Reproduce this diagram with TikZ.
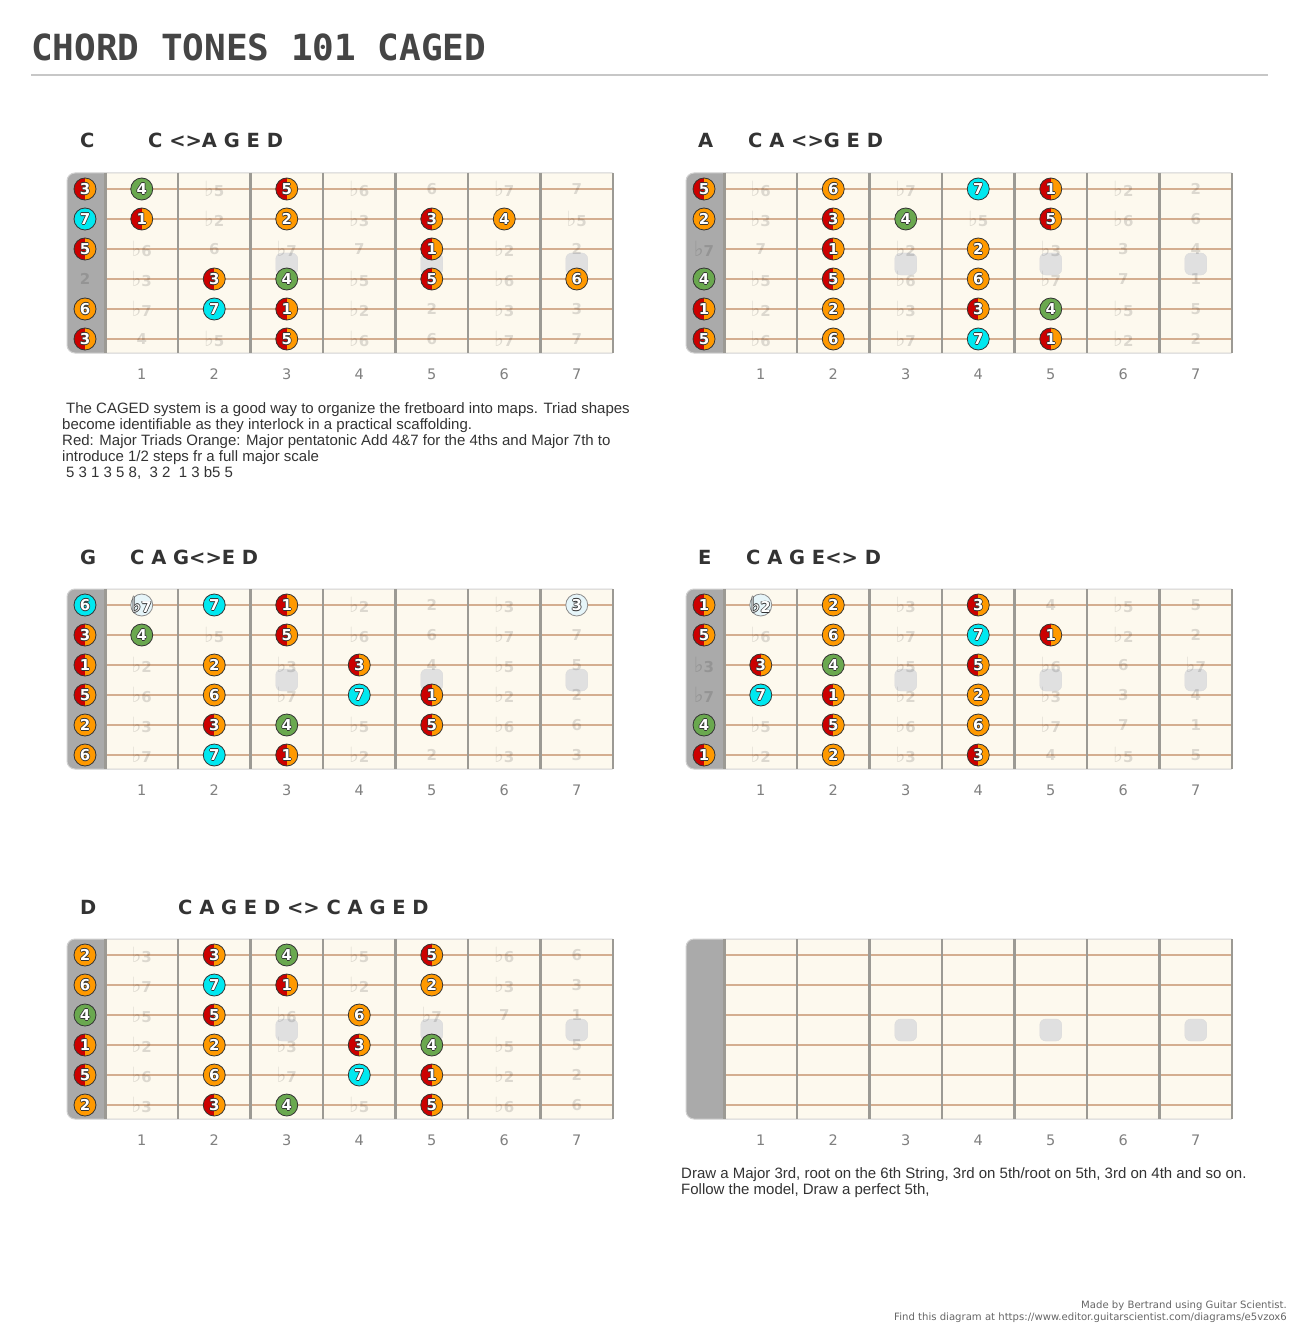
\documentclass[tikz,border=0pt]{standalone}
\usepackage{fontspec}
\setmainfont{Liberation Sans}
\newfontfamily\verdana{DejaVu Sans}
\newfontfamily\monofont{DejaVu Sans Mono}

\definecolor{nred}{HTML}{CC0000}
\definecolor{norange}{HTML}{FF9900}
\definecolor{ngreen}{HTML}{6AA84F}
\definecolor{ncyan}{HTML}{00E8F0}
\definecolor{ink}{HTML}{333333}
\definecolor{boardbg}{HTML}{FDF9EE}
\definecolor{nutgray}{HTML}{AAAAAA}
\definecolor{stringc}{HTML}{D4AE90}
\definecolor{fretc}{HTML}{9C9A94}
\definecolor{dotc}{HTML}{E0E0E0}
\definecolor{ghostc}{HTML}{E6F5F9}

\newcommand\fl{\raisebox{0.3pt}{\scalebox{1.4}{\verdana\mdseries ♭}}}
\newcommand\ivl[1]{\ifcase#1 1\or\fl2\or 2\or\fl3\or 3\or 4\or\fl5\or 5\or\fl6\or 6\or\fl7\or 7\fi}
\newcommand\olab[1]{%
  \makebox[0pt]{\textcolor{ink}{\kern1.5pt#1}}%
  \makebox[0pt]{\textcolor{ink}{#1\kern1.5pt}}%
  \makebox[0pt]{\textcolor{ink}{\raisebox{0.75pt}{#1}}}%
  \makebox[0pt]{\textcolor{ink}{\raisebox{-0.75pt}{#1}}}%
  \makebox[0pt]{\textcolor{white}{#1}}}

\tikzset{
  note/.style={circle, minimum size=22pt, inner sep=0pt, draw=ink, line width=0.8pt,
    font=\verdana\bfseries\fontsize{15}{16}\selectfont},
  triad/.style={note, fill=norange, path picture={
    \fill[nred] (path picture bounding box.south west) rectangle (path picture bounding box.north);}},
  penta/.style={note, fill=norange},
  fourth/.style={note, fill=ngreen},
  seventh/.style={note, fill=ncyan},
  ghost/.style={note, fill=ghostc, draw=black!45},
  faint/.style={inner sep=0pt, text=black, text opacity=0.13,
    font=\verdana\bfseries\fontsize{15}{16}\selectfont},
  inlay/.style={draw=black!14, fill=dotc, rounded corners=6pt, minimum width=22pt,
    minimum height=22pt, inner sep=0pt},
  fretnum/.style={inner sep=0pt, text=black!50, font=\verdana\fontsize{14.5}{16}\selectfont},
  heading/.style={anchor=base west, inner sep=0pt, text=ink,
    font=\verdana\bfseries\fontsize{19.5}{20}\selectfont},
  desc/.style={anchor=north west, inner sep=0pt, align=left, text=ink,
    font=\fontsize{15}{16}\selectfont},
}

% one fretboard in local coordinates; #1 = key (-1 = blank)
\newcommand\fretboard[1]{%
  \fill[nutgray, rounded corners=8pt] (0,0) rectangle (50,180);
  \fill[boardbg] (38.5,0) rectangle (545.5,180);
  \draw[black!18, line width=1pt, rounded corners=8pt] (545.5,0) -- (0,0) -- (0,180) -- (545.5,180);
  \foreach \fn in {3,5,7}
    \node[inlay] (\bd-dot\fn) at ({2.25+72.5*\fn},91) {};
  \foreach \sn in {1,...,6}
    \draw[stringc, line width=2pt] (38.5,{30*\sn-14}) -- (545.5,{30*\sn-14});
  \foreach \kn in {0,...,7}
    \draw[fretc, line width=2.5pt] ({38.5+72.5*\kn},0) -- ({38.5+72.5*\kn},180);
  \foreach \fn in {1,...,7}
    \node[fretnum] (\bd-n\fn) at ({2.25+72.5*\fn},201) {\fn};
  \ifnum#1>-1
    \foreach \sn/\op in {1/4,2/11,3/7,4/2,5/9,6/4}{
      \foreach \fn in {0,...,7}{
        \pgfmathtruncatemacro\iv{mod(\op+\fn-#1+24,12)}
        \node[faint] (\bd-g\sn-\fn) at ({18+(\fn>0)*(72.5*\fn-15.75)},{30*\sn-14}) {\ivl{\iv}};
      }}
  \fi
}
% a note: string, fret, style, label
\newcommand\nt[4]{\node[#3] (\bd-#1-#2) at ({18+(#2>0)*(72.5*#2-15.75)},{30*#1-14}) {\olab{#4}};}

\begin{document}
\begin{tikzpicture}[x=1pt, y=-1pt]
\useasboundingbox[fill=white] (0,0) rectangle (1299,1332);

\node[anchor=base west, inner sep=0pt, text=black!73, font=\monofont\bfseries\fontsize{36}{40}\selectfont]
  (title) at (31,61) {CHORD TONES 101 CAGED};
\draw[black!22, line width=1.5pt] (31,75) -- (1268,75);

\node[heading] (hC) at (80,148) {C};
\node[heading] (hC2) at (148,148) {C <>A G E D};
\node[heading] (hA) at (698,148) {A};
\node[heading] (hA2) at (748,148) {C A <>G E D};
\node[heading] (hG) at (80,564) {G};
\node[heading] (hG2) at (130,564) {C A G<>E D};
\node[heading] (hE) at (698,564) {E};
\node[heading] (hE2) at (746,564) {C A G E<> D};
\node[heading] (hD) at (80,914) {D};
\node[heading] (hD2) at (178,914) {C A G E D <> C A G E D};

% C shape
\begin{scope}[shift={(67,173)}]
\def\bd{bC}
\fretboard{0}
\nt{1}{0}{triad}{3} \nt{1}{1}{fourth}{4} \nt{1}{3}{triad}{5}
\nt{2}{0}{seventh}{7} \nt{2}{1}{triad}{1} \nt{2}{3}{penta}{2} \nt{2}{5}{triad}{3} \nt{2}{6}{penta}{4}
\nt{3}{0}{triad}{5} \nt{3}{5}{triad}{1}
\nt{4}{2}{triad}{3} \nt{4}{3}{fourth}{4} \nt{4}{5}{triad}{5} \nt{4}{7}{penta}{6}
\nt{5}{0}{penta}{6} \nt{5}{2}{seventh}{7} \nt{5}{3}{triad}{1}
\nt{6}{0}{triad}{3} \nt{6}{3}{triad}{5}
\end{scope}

% A shape
\begin{scope}[shift={(686,173)}]
\def\bd{bA}
\fretboard{9}
\nt{1}{0}{triad}{5} \nt{1}{2}{penta}{6} \nt{1}{4}{seventh}{7} \nt{1}{5}{triad}{1}
\nt{2}{0}{penta}{2} \nt{2}{2}{triad}{3} \nt{2}{3}{fourth}{4} \nt{2}{5}{triad}{5}
\nt{3}{2}{triad}{1} \nt{3}{4}{penta}{2}
\nt{4}{0}{fourth}{4} \nt{4}{2}{triad}{5} \nt{4}{4}{penta}{6}
\nt{5}{0}{triad}{1} \nt{5}{2}{penta}{2} \nt{5}{4}{triad}{3} \nt{5}{5}{fourth}{4}
\nt{6}{0}{triad}{5} \nt{6}{2}{penta}{6} \nt{6}{4}{seventh}{7} \nt{6}{5}{triad}{1}
\end{scope}

% G shape
\begin{scope}[shift={(67,589)}]
\def\bd{bG}
\fretboard{7}
\nt{1}{0}{seventh}{6} \nt{1}{1}{ghost}{\fl7} \nt{1}{2}{seventh}{7} \nt{1}{3}{triad}{1} \nt{1}{7}{ghost}{3}
\nt{2}{0}{triad}{3} \nt{2}{1}{fourth}{4} \nt{2}{3}{triad}{5}
\nt{3}{0}{triad}{1} \nt{3}{2}{penta}{2} \nt{3}{4}{triad}{3}
\nt{4}{0}{triad}{5} \nt{4}{2}{penta}{6} \nt{4}{4}{seventh}{7} \nt{4}{5}{triad}{1}
\nt{5}{0}{penta}{2} \nt{5}{2}{triad}{3} \nt{5}{3}{fourth}{4} \nt{5}{5}{triad}{5}
\nt{6}{0}{penta}{6} \nt{6}{2}{seventh}{7} \nt{6}{3}{triad}{1}
\end{scope}

% E shape
\begin{scope}[shift={(686,589)}]
\def\bd{bE}
\fretboard{4}
\nt{1}{0}{triad}{1} \nt{1}{1}{ghost}{\fl2} \nt{1}{2}{penta}{2} \nt{1}{4}{triad}{3}
\nt{2}{0}{triad}{5} \nt{2}{2}{penta}{6} \nt{2}{4}{seventh}{7} \nt{2}{5}{triad}{1}
\nt{3}{1}{triad}{3} \nt{3}{2}{fourth}{4} \nt{3}{4}{triad}{5}
\nt{4}{1}{seventh}{7} \nt{4}{2}{triad}{1} \nt{4}{4}{penta}{2}
\nt{5}{0}{fourth}{4} \nt{5}{2}{triad}{5} \nt{5}{4}{penta}{6}
\nt{6}{0}{triad}{1} \nt{6}{2}{penta}{2} \nt{6}{4}{triad}{3}
\end{scope}

% D shape
\begin{scope}[shift={(67,939)}]
\def\bd{bD}
\fretboard{2}
\nt{1}{0}{penta}{2} \nt{1}{2}{triad}{3} \nt{1}{3}{fourth}{4} \nt{1}{5}{triad}{5}
\nt{2}{0}{penta}{6} \nt{2}{2}{seventh}{7} \nt{2}{3}{triad}{1} \nt{2}{5}{penta}{2}
\nt{3}{0}{fourth}{4} \nt{3}{2}{triad}{5} \nt{3}{4}{penta}{6}
\nt{4}{0}{triad}{1} \nt{4}{2}{penta}{2} \nt{4}{4}{triad}{3} \nt{4}{5}{fourth}{4}
\nt{5}{0}{triad}{5} \nt{5}{2}{penta}{6} \nt{5}{4}{seventh}{7} \nt{5}{5}{triad}{1}
\nt{6}{0}{penta}{2} \nt{6}{2}{triad}{3} \nt{6}{3}{fourth}{4} \nt{6}{5}{triad}{5}
\end{scope}

% blank board
\begin{scope}[shift={(686,939)}]
\def\bd{bX}
\fretboard{-1}
\end{scope}

\node[desc] (infoC) at (62,402) {\hspace*{4pt}The CAGED system is a good way to organize the fretboard into maps. Triad shapes\\
  become identifiable as they interlock in a practical scaffolding.\\
  Red: Major Triads Orange: Major pentatonic Add 4\&7 for the 4ths and Major 7th to\\
  introduce 1/2 steps fr a full major scale\\
  \hspace*{4pt}5 3 1 3 5 8,\ \ 3 2\ \ 1 3 b5 5};
\node[desc] (infoX) at (681,1167) {Draw a Major 3rd, root on the 6th String, 3rd on 5th/root on 5th, 3rd on 4th and so on.\\
  Follow the model, Draw a perfect 5th,};

\node[anchor=north east, inner sep=0pt, align=right, text=black!60, font=\verdana\fontsize{10.1}{12}\selectfont]
  (credit) at (1287,1301) {Made by Bertrand using Guitar Scientist.\\
  Find this diagram at https://www.editor.guitarscientist.com/diagrams/e5vzox6};
\end{tikzpicture}
\end{document}
